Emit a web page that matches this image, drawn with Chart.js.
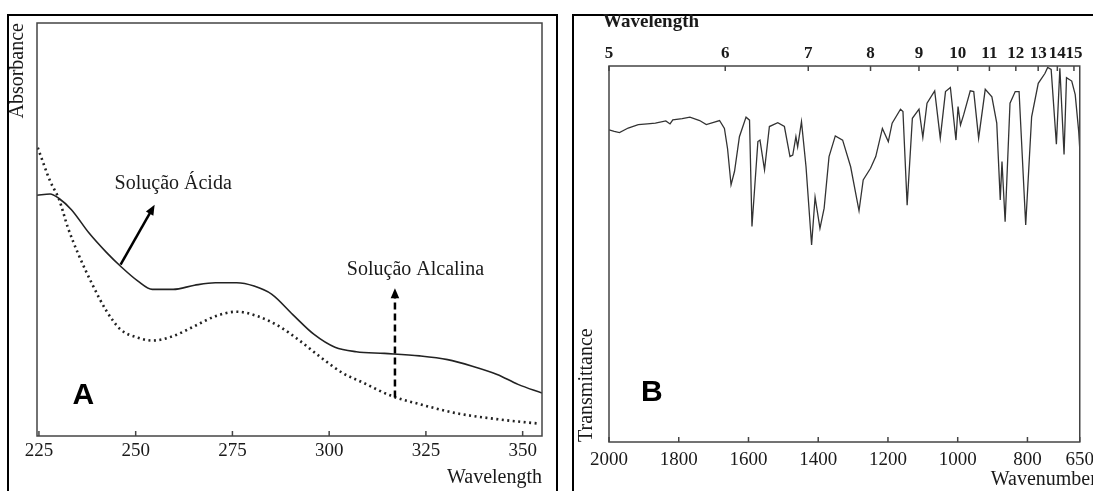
<!DOCTYPE html>
<html>
<head>
<meta charset="utf-8">
<script src="https://cdn.jsdelivr.net/npm/chart.js@4.4.1/dist/chart.umd.min.js"></script>
<style>
  html, body { margin: 0; padding: 0; background: #fff; overflow: hidden; width: 1093px; height: 491px; }
  .frame { position: absolute; border: 2px solid #000; box-sizing: border-box; }
  #frameA { left: 7px; top: 14px; width: 551px; height: 500px; }
  #frameB { left: 572px; top: 14px; width: 560px; height: 500px; }
  canvas { position: absolute; top: 0; }
  #uvCanvas { left: 0; }
  #irCanvas { left: 560px; }
</style>
</head>
<body>
<div class="frame" id="frameA"></div>
<div class="frame" id="frameB"></div>
<canvas id="uvCanvas" width="557" height="491"></canvas>
<canvas id="irCanvas" width="533" height="491"></canvas>
<script>
// Panel A - UV spectrum (absorbance, arbitrary 0-100)
var uvAcidWl = [224.5, 227.9, 230.2, 233.4, 237.9, 242.5, 246.1, 250.6, 254.3, 259.7, 265.2, 270.6, 276.1, 280.6, 285.2, 290.6, 296.1, 301.5, 307, 314.3, 323.4, 330.6, 337, 343.4, 348.8, 355];
var uvAcidAbs = [58.3, 58.6, 57.5, 54.8, 49.2, 44.4, 41.1, 37.5, 35.5, 35.5, 36.5, 37.1, 37.1, 36.3, 34.3, 29.4, 24.6, 21.5, 20.4, 20.0, 19.4, 18.5, 16.9, 14.9, 12.5, 10.4];
var uvAlkWl = [224.7, 227.9, 230.2, 232.5, 235.2, 238.8, 242.5, 246.1, 250.6, 254.3, 259.7, 265.2, 270.6, 276.1, 281.5, 287, 292.5, 297.9, 303.4, 308.8, 316.1, 323.4, 332.4, 341.5, 348.8, 354.3];
var uvAlkAbs = [69.8, 61.7, 57.3, 50.4, 44.0, 36.7, 30.2, 25.8, 23.8, 23.1, 24.2, 26.6, 29.0, 30.1, 29.0, 26.6, 23.0, 19.0, 15.3, 12.9, 9.7, 7.7, 5.6, 4.3, 3.5, 3.0];
var uvTicks = [225, 250, 275, 300, 325, 350];

// Panel B - IR spectrum (transmittance, arbitrary 0-100)
var irWavenumber = [2000, 1985, 1970, 1945, 1916, 1890, 1867, 1837, 1825, 1817, 1790, 1768, 1740, 1721, 1700, 1683, 1669, 1660, 1650, 1640, 1626, 1607, 1597, 1590, 1573, 1567, 1554, 1540, 1516, 1497, 1481, 1473, 1464, 1459, 1448, 1435, 1419, 1409, 1395, 1383, 1369, 1351, 1330, 1307, 1283, 1271, 1250, 1235, 1216, 1199, 1188, 1164, 1157, 1145, 1130, 1111, 1100, 1088, 1066, 1050, 1035, 1021, 1005, 999, 992, 983, 964, 954, 940, 921, 902, 888, 878, 873, 864, 850, 835, 824, 805, 788, 769, 750, 742, 732, 717, 707, 695, 688, 673, 663, 653, 650];
var irTransmittance = [83.0, 82.6, 82.3, 83.5, 84.4, 84.6, 84.8, 85.4, 84.6, 85.7, 86.0, 86.4, 85.5, 84.4, 85.0, 85.5, 83.4, 78, 68.4, 72, 81.2, 86.4, 85.6, 57.3, 79.9, 80.3, 72.4, 83.9, 84.9, 83.9, 75.9, 76.3, 81.2, 78.5, 85.2, 73.2, 52.4, 65.1, 56.8, 62.2, 75.9, 81.4, 80.3, 73.2, 61.5, 69.7, 72.8, 75.9, 83.4, 79.9, 84.8, 88.5, 87.9, 63.0, 86.1, 88.5, 81.0, 90.1, 93.4, 80.8, 93.2, 94.3, 80.3, 89.2, 84.3, 87.0, 93.4, 93.2, 80.8, 93.8, 91.8, 84.8, 64.4, 74.6, 58.6, 90.1, 93.2, 93.2, 57.7, 86.5, 95.4, 98, 99.6, 99.1, 79.2, 99.4, 76.5, 96.9, 96.0, 92.4, 82.6, 78];
var irWavenumberTicks = [2000, 1800, 1600, 1400, 1200, 1000, 800, 650];
var irWavelengthTicks = [5, 6, 7, 8, 9, 10, 11, 12, 13, 14, 15];

var serif = "'Liberation Serif', 'Times New Roman', serif";
var ink = '#1a1a1a';

function pairs(xs, ys) {
    return xs.map(function(x, i) { return { x: x, y: ys[i] }; });
}

function drawArrow(ctx, x1, y1, x2, y2, dash) {
    var ang = Math.atan2(y2 - y1, x2 - x1);
    var head = 11;
    ctx.save();
    ctx.strokeStyle = '#000';
    ctx.fillStyle = '#000';
    ctx.lineWidth = 2.5;
    ctx.setLineDash(dash || []);
    ctx.beginPath();
    ctx.moveTo(x1, y1);
    ctx.lineTo(x2 - Math.cos(ang) * head * 0.8, y2 - Math.sin(ang) * head * 0.8);
    ctx.stroke();
    ctx.setLineDash([]);
    ctx.beginPath();
    ctx.moveTo(x2, y2);
    ctx.lineTo(x2 - head * Math.cos(ang - 0.4), y2 - head * Math.sin(ang - 0.4));
    ctx.lineTo(x2 - head * Math.cos(ang + 0.4), y2 - head * Math.sin(ang + 0.4));
    ctx.closePath();
    ctx.fill();
    ctx.restore();
}

// plot box and inward tick marks
var framePlugin = {
    id: 'frame',
    afterDatasetsDraw: function(chart) {
        var ctx = chart.ctx, a = chart.chartArea;
        ctx.save();
        ctx.strokeStyle = '#444';
        ctx.lineWidth = 1.5;
        ctx.strokeRect(a.left, a.top, a.right - a.left, a.bottom - a.top);
        Object.keys(chart.scales).forEach(function(id) {
            var s = chart.scales[id];
            if (s.axis !== 'x') return;
            var top = s.position === 'top';
            s.ticks.forEach(function(t) {
                var px = s.getPixelForValue(t.value);
                var y0 = top ? a.top : a.bottom;
                ctx.beginPath();
                ctx.moveTo(px, y0);
                ctx.lineTo(px, y0 + (top ? 5 : -5));
                ctx.stroke();
            });
        });
        ctx.restore();
    }
};

var uvNotes = {
    id: 'uvNotes',
    afterDatasetsDraw: function(chart) {
        var x = chart.scales.x, y = chart.scales.y, ctx = chart.ctx;
        ctx.save();
        ctx.fillStyle = ink;
        ctx.textAlign = 'center';
        ctx.textBaseline = 'middle';
        ctx.font = '20px ' + serif;
        ctx.fillText('Solução Ácida', x.getPixelForValue(259.7), y.getPixelForValue(61));
        ctx.fillText('Solução Alcalina', x.getPixelForValue(322.3), y.getPixelForValue(40.3));
        ctx.fillStyle = '#000';
        ctx.font = "bold 30px 'Liberation Sans', Arial, sans-serif";
        ctx.fillText('A', x.getPixelForValue(236.5), y.getPixelForValue(9.7));
        ctx.restore();
        drawArrow(ctx, x.getPixelForValue(246.1), y.getPixelForValue(41.5), x.getPixelForValue(254.9), y.getPixelForValue(56));
        drawArrow(ctx, x.getPixelForValue(317), y.getPixelForValue(9.3), x.getPixelForValue(317), y.getPixelForValue(35.8), [7, 4]);
    }
};

var irNotes = {
    id: 'irNotes',
    afterDatasetsDraw: function(chart) {
        var x = chart.scales.x, y = chart.scales.y, ctx = chart.ctx, a = chart.chartArea;
        ctx.save();
        ctx.fillStyle = '#000';
        ctx.textAlign = 'center';
        ctx.textBaseline = 'middle';
        ctx.font = "bold 30px 'Liberation Sans', Arial, sans-serif";
        ctx.fillText('B', x.getPixelForValue(1877), y.getPixelForValue(13));
        ctx.fillStyle = ink;
        ctx.textAlign = 'left';
        ctx.font = '20px ' + serif;
        ctx.fillText('Wavenumber', a.right - 89, 480);
        ctx.font = 'bold 19px ' + serif;
        ctx.fillText('Wavelength', a.left - 6, 22);
        ctx.restore();
    }
};

new Chart(document.getElementById('uvCanvas'), {
    type: 'line',
    data: {
        datasets: [
            {
                label: 'Solução Ácida',
                data: pairs(uvAcidWl, uvAcidAbs),
                borderColor: '#222',
                borderWidth: 1.6,
                pointRadius: 0,
                cubicInterpolationMode: 'monotone'
            },
            {
                label: 'Solução Alcalina',
                data: pairs(uvAlkWl, uvAlkAbs),
                borderColor: '#222',
                borderWidth: 2.6,
                borderDash: [2, 3.5],
                pointRadius: 0,
                cubicInterpolationMode: 'monotone'
            }
        ]
    },
    options: {
        responsive: false,
        animation: false,
        layout: { padding: { top: 23, right: 15 } },
        plugins: { legend: { display: false }, tooltip: { enabled: false } },
        scales: {
            x: {
                type: 'linear', min: 224.5, max: 355,
                afterBuildTicks: function(s) { s.ticks = uvTicks.map(function(v) { return { value: v }; }); },
                afterFit: function(s) { s.height = 55; },
                grid: { display: false },
                border: { display: false },
                ticks: { autoSkip: false, maxRotation: 0, padding: -4, color: ink, font: { family: serif, size: 19 },
                         callback: function(v) { return String(v); } },
                title: { display: true, text: 'Wavelength', align: 'end', color: ink, padding: { top: 0, bottom: 3 }, font: { family: serif, size: 20, lineHeight: 1 } }
            },
            y: {
                min: 0, max: 100,
                afterFit: function(s) { s.width = 37; },
                grid: { display: false },
                border: { display: false },
                ticks: { display: false },
                title: { display: true, text: 'Absorbance', align: 'end', color: ink, padding: { top: 8, bottom: 0 }, font: { family: serif, size: 20, lineHeight: 1 } }
            }
        }
    },
    plugins: [framePlugin, uvNotes]
});

new Chart(document.getElementById('irCanvas'), {
    type: 'line',
    data: {
        datasets: [{
            label: 'Transmittance',
            data: pairs(irWavenumber, irTransmittance),
            borderColor: '#333',
            borderWidth: 1.3,
            pointRadius: 0,
            tension: 0
        }]
    },
    options: {
        responsive: false,
        animation: false,
        layout: { padding: { top: 0, right: 12 } },
        plugins: { legend: { display: false }, tooltip: { enabled: false } },
        scales: {
            x: {
                type: 'linear', position: 'bottom', min: 650, max: 2000, reverse: true,
                afterBuildTicks: function(s) { s.ticks = irWavenumberTicks.map(function(v) { return { value: v }; }); },
                afterFit: function(s) { s.height = 49; },
                grid: { display: false },
                border: { display: false },
                ticks: { autoSkip: false, maxRotation: 0, padding: -1, color: ink, font: { family: serif, size: 19 },
                         callback: function(v) { return String(v); } }
            },
            x2: {
                type: 'linear', position: 'top', axis: 'x', min: 650, max: 2000, reverse: true,
                afterBuildTicks: function(s) { s.ticks = irWavelengthTicks.map(function(n) { return { value: 10000 / n }; }); },
                afterFit: function(s) { s.height = 66; },
                grid: { display: false },
                border: { display: false },
                ticks: {
                    autoSkip: false, maxRotation: 0, padding: -6, color: ink,
                    font: { family: serif, size: 17, weight: 'bold' },
                    callback: function(v) { return String(Math.round(10000 / v)); }
                }
            },
            y: {
                min: 0, max: 100,
                afterFit: function(s) { s.width = 49; },
                grid: { display: false },
                border: { display: false },
                ticks: { display: false },
                title: { display: true, text: 'Transmittance', align: 'start', color: ink, padding: { top: 17, bottom: 0 }, font: { family: serif, size: 20, lineHeight: 1 } }
            }
        }
    },
    plugins: [framePlugin, irNotes]
});
</script>
</body>
</html>
